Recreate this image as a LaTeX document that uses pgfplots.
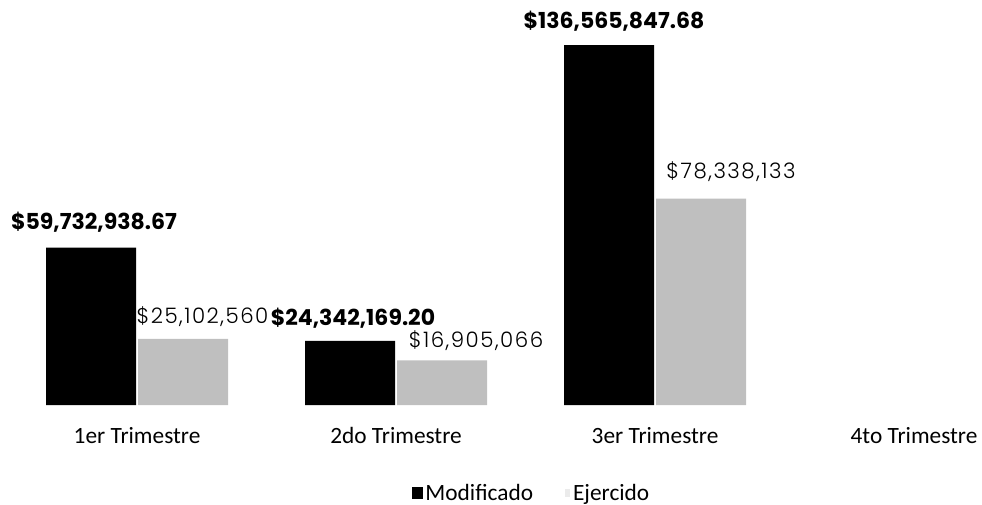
\documentclass[border=0pt]{standalone}
\usepackage{pgfplots}
\pgfplotsset{compat=1.18}
\usepackage{pgfplotstable}
\usepackage{fontspec}
\setmainfont{Carlito}
\newfontfamily\boldlab{Poppins}
\newfontfamily\lightlab{Poppins Light}[LetterSpace=7]

\pgfplotstableread{
x y lab dx dy
0 59.73293867 59,732,938.67 2.25 18.75
1 24.34216920 24,342,169.20 2.25 17.25
2 136.56584768 136,565,847.68 3.75 18
}\modtab

\pgfplotstableread{
x y lab dx dy
0 25.102560 25,102,560 14.6 16.5
1 16.905066 16,905,066 25.5 15
2 78.338133 78,338,133 22.5 20.25
}\ejetab

\begin{document}
\begin{tikzpicture}
\begin{axis}[
  scale only axis, width=736.5pt, height=303.75pt,
  xmin=-0.529, xmax=3.2625, ymin=0, ymax=153.7,
  ybar=1.5pt, bar width=67.5pt,
  axis line style={draw=none},
  ytick=\empty, xtick={0,1,2,3},
  xticklabels={1er Trimestre,2do Trimestre,3er Trimestre,4to Trimestre},
  major tick length=0pt,
  xticklabel style={font=\fontsize{17.5}{19}\selectfont, anchor=center, yshift=-23pt},
  clip=false,
  legend columns=2,
  legend style={draw=none, fill=none, at={(rel axis cs:0.5418,-0.2173)}, anchor=center,
    font=\fontsize{17.5}{19}\selectfont,
    /tikz/every even column/.append style={column sep=22pt}},
  legend cell align=left,
  legend image code/.code={\fill[#1] (0pt,-4.5pt) rectangle (8pt,4.5pt);},
  point meta=explicit symbolic,
  visualization depends on={\thisrow{dx} \as \dx},
  visualization depends on={\thisrow{dy} \as \dy},
]
\addplot[fill=black, draw=none,
  nodes near coords={\$\pgfplotspointmeta},
  nodes near coords style={anchor=center, xshift=\dx pt, yshift=\dy pt,
    font=\boldlab\bfseries\fontsize{16.5}{18}\selectfont, text=black}]
  table[x=x, y=y, meta=lab]{\modtab};
\addlegendentry{Modificado}
\addplot[fill=black!25, draw=none,
  legend image code/.code={\fill[black!8] (3pt,-3pt) rectangle (7pt,3pt);},
  nodes near coords={\$\pgfplotspointmeta},
  nodes near coords style={anchor=center, xshift=\dx pt, yshift=\dy pt,
    font=\lightlab\fontsize{16}{18}\selectfont, text=black}]
  table[x=x, y=y, meta=lab]{\ejetab};
\addlegendentry{Ejercido}
\coordinate (BL) at (rel axis cs:0,0);
\coordinate (TR) at (rel axis cs:1,1);
\end{axis}
\pgfresetboundingbox
\useasboundingbox ([yshift=-74.25pt]BL) rectangle (TR);
\end{tikzpicture}
\end{document}
